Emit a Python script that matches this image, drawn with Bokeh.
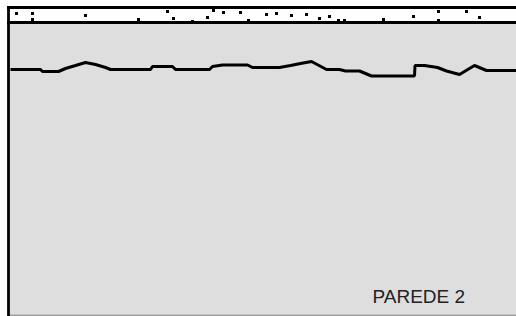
from bokeh.plotting import figure
from bokeh.models import Range1d
from bokeh.core.properties import value
from bokeh.embed import file_html
from bokeh.resources import INLINE

# wall profile (position along wall, level from top)
pos = [10, 40, 42, 58, 65, 75, 85, 95, 105, 110, 150, 152, 172, 175, 209, 212, 222,
       247, 252, 279, 290, 300, 311, 326, 339, 345, 359, 371, 414, 414.5, 424, 437,
       446, 459, 474, 486, 516]
level = [69, 69, 71, 71, 68, 65, 62, 64, 67, 69, 69, 66, 66, 69, 69, 66, 64.5,
         64.5, 67, 67, 65, 63, 61, 69, 69, 70.5, 70.5, 75.5, 75.5, 65, 65, 67,
         70.5, 74, 65, 70, 70]

# specks in the top strip
speck_x = [16, 32, 32, 85, 138, 167, 173, 192, 207, 213, 223, 240, 248,
           266, 276, 291, 306, 319, 329, 338, 344, 383, 413, 438, 438, 466, 479]
speck_y = [13, 13, 19, 15, 19, 11, 18, 21, 17, 10, 12, 12, 20,
           14, 13, 15, 14, 18, 16, 20, 20, 19, 16, 11, 20, 11, 17]

label = "PAREDE 2"

p = figure(width=516, height=316, output_backend="svg", toolbar_location=None,
           x_range=Range1d(0, 516), y_range=Range1d(316, 0),
           min_border=0, outline_line_color=None)
p.axis.visible = False
p.grid.visible = False
p.background_fill_color = "white"
p.border_fill_color = "white"

# gray panel
p.quad(left=[9], right=[516], top=[23], bottom=[314], fill_color="#dedede", line_color=None)
p.segment(x0=[9], x1=[516], y0=[314.8], y1=[314.8], line_color="#9a9a9a", line_width=1.6)
# top white strip borders
p.segment(x0=[6.5], x1=[516], y0=[7], y1=[7], line_color="black", line_width=2.8)
p.segment(x0=[6.5], x1=[516], y0=[22], y1=[22], line_color="black", line_width=2.8)
p.segment(x0=[8], x1=[8], y0=[5.8], y1=[316], line_color="black", line_width=2.8)

p.scatter(speck_x, speck_y, marker="square", size=3, fill_color="black", line_color=None)

p.line(pos, level, line_color="black", line_width=3)

p.text(x=[372], y=[296], text=[label], text_font=value("Liberation Sans"),
       text_font_size="19px", text_color="#222222", text_baseline="middle",
       text_align="left")

open("out.html", "w").write(file_html(p, INLINE))
